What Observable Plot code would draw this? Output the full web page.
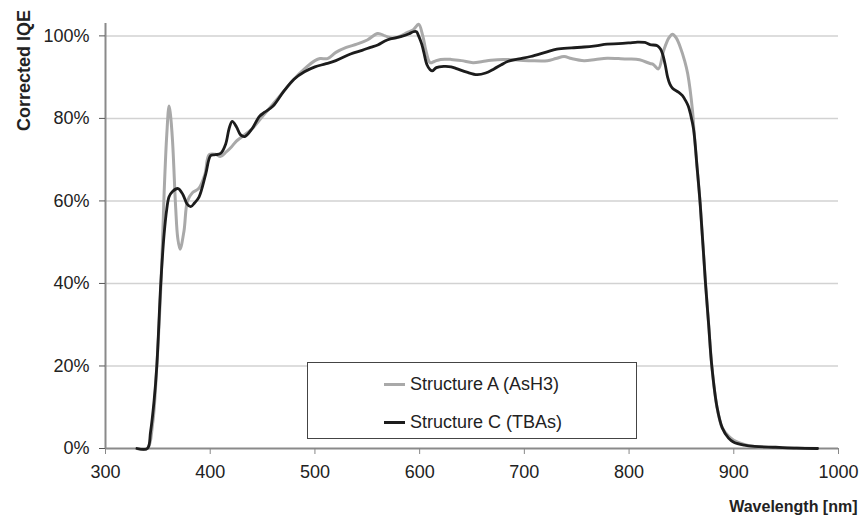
<!DOCTYPE html>
<html>
<head>
<meta charset="utf-8">
<script src="https://cdn.jsdelivr.net/npm/d3@7"></script>
<script src="https://cdn.jsdelivr.net/npm/@observablehq/plot@0.6"></script>
<style>
  html, body { margin: 0; padding: 0; background: #fff; }
  #wrap { position: relative; width: 865px; height: 527px; font-family: "Liberation Sans", Arial, sans-serif; }
  #legend { position: absolute; left: 307px; top: 362px; width: 328px; height: 75px; border: 1.5px solid #444; background: #fff; box-sizing: content-box; }
  .row { position: absolute; left: 76px; height: 20px; display: flex; align-items: center; font-size: 18px; color: #222; white-space: nowrap; }
  .sw { width: 21px; height: 3px; margin-right: 5px; }
</style>
</head>
<body>
<div id="wrap"></div>
<script>
// Structure A (AsH3) — wavelength [nm]
const wlA = [330,340,345,349,353,356,358.5,360.7,362,364,367,369,371.2,375,378.3,383,389,395,399,405,410,415,420,425,430,440,450,460,470,480,490,500,505,512,520,530,540,550,560,567,575,582,588,594,599,603,606,610,614,620,630,640,651,660,668,680,690,706,722,730,738,745,757,768,779,790,799,810,820,823,828,833,838,841.5,845,849,853,856,860.6,862,865,868,873,876,879,884,889,895,900,910,920,940,960,980];
// Structure A corrected IQE [%]
const iqeA = [0,0,6,20,40,62,76,83,81,74.6,58.4,51,48.3,52.8,60,62,63,66.5,71.2,71.3,70.8,71.8,73,74.5,75.5,77.5,80.5,83.5,86.5,89.5,92,94,94.5,94.5,96,97.2,98,99,100.6,100,99.4,100,100.8,101.5,102.8,100,96.4,93.5,93.8,94.3,94.3,94,93.5,93.8,94.1,94.3,94.2,94,94,94.5,95,94.5,94,94.3,94.6,94.5,94.4,94.2,93.3,93.1,92,96.4,99.5,100.4,99.5,97.2,94,90.8,81.8,77,68,59,40,30,20,10,5,3,2,1,0.5,0.2,0.1,0];

// Structure C (TBAs) — wavelength [nm]
const wlC = [330,340,343,346.4,349,352.8,356,358.5,360.7,364,369.3,374,378,381.4,385,389.4,395.7,400.5,405,410,414.8,418,421,425,429,433,440,447,452,460,470,480,490,500,510,520,534,545,553,560,569,582,590,594,597,599,602,604,607,610,612,616,623,630,636,645,655,663,671,678,684,695,706,720,731,745,757,768,779,790,800,808,815,820,827,830,832,834.5,836.8,839,841.5,847.5,851,854,856.5,858.7,861.6,865,868,873,876,879,884,889,895,900,910,920,940,960,980];
// Structure C corrected IQE [%]
const iqeC = [0,0,4,11.6,20,40,52,58,61,62.3,63,61.5,59.2,58.6,59.5,61,66.5,71,71.2,71.5,73.8,77.5,79.3,78,76,75.6,77.5,80.5,81.5,83,86.5,89.5,91.3,92.5,93.2,94,95.6,96.5,97.2,97.8,99,99.8,100.5,101,101,100,98,96,93,91.8,91.5,92.3,92.6,92.5,92,91.2,90.6,91,92,93,93.8,94.4,95,96,96.8,97.1,97.3,97.6,98,98.1,98.3,98.5,98.4,97.9,97.6,96.8,95.6,93,90,88.3,87.3,86.3,85.5,84.3,83,81,77.4,68,59,40,30,20,10,5,2.5,1.5,0.8,0.5,0.3,0.1,0];

const seriesNames = ["Structure A (AsH3)", "Structure C (TBAs)"];
const seriesColors = ["#a9a9a9", "#1c1c1c"];
const xTicks = [300,400,500,600,700,800,900,1000];
const yTicks = [0,0.2,0.4,0.6,0.8,1.0];
const gridTicks = [0.2,0.4,0.6,0.8,1.0];

const dataA = wlA.map((w,i) => ({wl: w, v: iqeA[i] / 100}));
const dataC = wlC.map((w,i) => ({wl: w, v: iqeC[i] / 100}));

const font = '"Liberation Sans", Arial, sans-serif';

const chart = Plot.plot({
  width: 865,
  height: 527,
  marginLeft: 105,
  marginRight: 27,
  marginTop: 23,
  marginBottom: 79,
  style: {fontFamily: font, background: "#fff", color: "#222"},
  x: {domain: [300, 1000]},
  y: {domain: [0, 1.03]},
  marks: [
    Plot.ruleY(gridTicks, {y: d => d, x1: 300, x2: 1000, stroke: "#d2d2d2", strokeWidth: 1.5}),
    Plot.ruleX([300], {stroke: "#8a8a8a", strokeWidth: 2}),
    Plot.ruleY([0], {x1: 300, x2: 1000, stroke: "#8a8a8a", strokeWidth: 2}),
    Plot.axisY({ticks: yTicks, tickFormat: d => Math.round(d * 100) + "%", tickSize: 6, tickPadding: 10, fontSize: 18, stroke: "#555", fill: "#222", label: null}),
    Plot.axisX({ticks: xTicks, tickFormat: d => String(d), tickSize: 6, tickPadding: 11, fontSize: 18, stroke: "#888", fill: "#222", label: null}),
    Plot.line(dataA, {x: "wl", y: "v", stroke: seriesColors[0], strokeWidth: 3, curve: "catmull-rom"}),
    Plot.line(dataC, {x: "wl", y: "v", stroke: seriesColors[1], strokeWidth: 2.8, curve: "catmull-rom"}),
    Plot.text(["Corrected IQE"], {frameAnchor: "top-left", dx: -88, dy: 47, rotate: -90, fontWeight: "bold", fontSize: 18, textAnchor: "middle", fill: "#222"}),
    Plot.text(["Wavelength [nm]"], {frameAnchor: "bottom-right", dx: 19, dy: 63, fontWeight: "bold", fontSize: 16, textAnchor: "end", fill: "#222"})
  ]
});

const wrap = document.getElementById("wrap");
wrap.appendChild(chart);

const legend = document.createElement("div");
legend.id = "legend";
seriesNames.forEach((name, i) => {
  const row = document.createElement("div");
  row.className = "row";
  row.style.top = (i === 0 ? 11 : 49) + "px";
  const sw = document.createElement("span");
  sw.className = "sw";
  sw.style.background = seriesColors[i];
  const tx = document.createElement("span");
  tx.textContent = name;
  row.appendChild(sw);
  row.appendChild(tx);
  legend.appendChild(row);
});
wrap.appendChild(legend);
</script>
</body>
</html>
